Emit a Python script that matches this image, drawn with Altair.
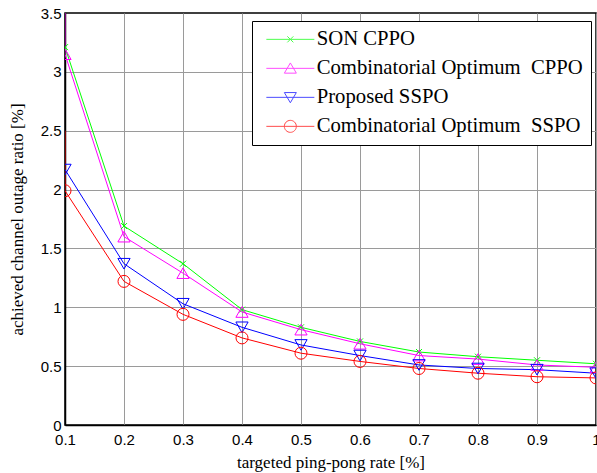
import altair as alt
import pandas as pd

# ---- data ----
x_vals = [0.1, 0.2, 0.3, 0.4, 0.5, 0.6, 0.7, 0.8, 0.9, 1.0]
son_cppo = [3.21, 1.69, 1.37, 0.98, 0.83, 0.71, 0.62, 0.58, 0.55, 0.52]
opt_cppo = [3.15, 1.60, 1.29, 0.96, 0.81, 0.69, 0.59, 0.56, 0.51, 0.49]
prop_sspo = [2.17, 1.37, 1.03, 0.83, 0.68, 0.59, 0.51, 0.48, 0.47, 0.44]
opt_sspo = [1.99, 1.22, 0.94, 0.74, 0.61, 0.54, 0.48, 0.44, 0.41, 0.40]

series_names = ["SON CPPO", "Combinatorial Optimum\u00a0 CPPO",
                "Proposed SSPO", "Combinatorial Optimum\u00a0 SSPO"]
series_values = [son_cppo, opt_cppo, prop_sspo, opt_sspo]
series_colors = ["#00ff00", "#ff00ff", "#0000ff", "#ff0000"]

# clipped lead-in segments visible on the left edge (series, top of visible part)
lead_series = ["Combinatorial Optimum\u00a0 CPPO", "Combinatorial Optimum\u00a0 SSPO"]
lead_top = [3.5, 2.5]

x_ticks = [0.1, 0.2, 0.3, 0.4, 0.5, 0.6, 0.7, 0.8, 0.9, 1.0]
y_ticks = [0, 0.5, 1, 1.5, 2, 2.5, 3, 3.5]

# marker shapes (plot) and line+marker shapes (legend)
plot_shapes = ["M-1,-1L1,1M-1,1L1,-1", "triangle-up", "triangle-down", "circle"]
plot_sizes = [36, 150, 150, 144]
legend_shapes = [
    "M-4,0H4M-0.5,-0.5L0.5,0.5M-0.5,0.5L0.5,-0.5",
    "M-4,0H4M0,-0.9L1,0.8L-1,0.8Z",
    "M-4,0H4M0,0.9L1,-0.8L-1,-0.8Z",
    "M-4,0H4M1,0A1,1,0,1,1,-1,0A1,1,0,1,1,1,0Z",
]

rows = []
for name, vals in zip(series_names, series_values):
    for i, (xv, yv) in enumerate(zip(x_vals, vals)):
        rows.append({"series": name, "x": xv, "y": yv, "order": i})
df = pd.DataFrame(rows)

first_val = {n: v[0] for n, v in zip(series_names, series_values)}
lead_df = pd.DataFrame({
    "series": lead_series,
    "x": [x_vals[0]] * len(lead_series),
    "y": lead_top,
    "y2": [first_val[s] for s in lead_series],
})

xscale = alt.Scale(domain=[0.1, 1.0], nice=False, zero=False)
yscale = alt.Scale(domain=[0, 3.5], nice=False, zero=False)
cscale = alt.Scale(domain=series_names, range=series_colors)
leg = alt.Legend(title=None)

x_axis = alt.Axis(
    values=x_ticks,
    labelExpr="datum.value >= 0.999 ? '1' : format(datum.value, '.1f')",
    title="targeted ping-pong rate [%]",
    grid=True, ticks=False, labelPadding=7, titlePadding=7,
    labelFlush=False, labelOverlap=False,
    gridOpacity={"condition": {"test": "datum.value <= 0.1001", "value": 0}, "value": 1},
)
y_axis = alt.Axis(
    values=y_ticks, format="~g",
    title="achieved channel outage ratio [%]",
    grid=True, ticks=False, labelPadding=4, titlePadding=14,
    labelFlush=False, labelOverlap=False,
    gridOpacity={"condition": {"test": "datum.value >= 3.49 || datum.value <= 0.001", "value": 0}, "value": 1},
)

base = alt.Chart(df)

lines = base.mark_line(strokeWidth=1, clip=True).encode(
    x=alt.X("x:Q", scale=xscale, axis=x_axis),
    y=alt.Y("y:Q", scale=yscale, axis=y_axis),
    color=alt.Color("series:N", scale=cscale, legend=leg),
    order="order:Q",
)

lead = alt.Chart(lead_df).mark_rule(strokeWidth=1, clip=True).encode(
    x=alt.X("x:Q", scale=xscale),
    y=alt.Y("y:Q", scale=yscale),
    y2="y2:Q",
    color=alt.Color("series:N", scale=cscale, legend=leg),
)

point_layers = []
for name, shp, sz, col in zip(series_names, plot_shapes, plot_sizes, series_colors):
    point_layers.append(
        base.transform_filter(alt.datum.series == name).mark_point(
            shape=shp, size=sz, filled=False, stroke=col, strokeWidth=1, opacity=1, clip=True
        ).encode(
            x=alt.X("x:Q", scale=xscale),
            y=alt.Y("y:Q", scale=yscale),
        )
    )

legend_layer = base.transform_filter("datum.x < 0").mark_point(
    filled=False, strokeWidth=1, size=144
).encode(
    x=alt.X("x:Q", scale=xscale),
    y=alt.Y("y:Q", scale=yscale),
    color=alt.Color("series:N", scale=cscale, legend=leg),
    shape=alt.Shape("series:N", scale=alt.Scale(domain=series_names, range=legend_shapes),
                    legend=leg),
)

chart = alt.layer(lead, lines, *point_layers, legend_layer).properties(
    width=531, height=412,
    autosize=alt.AutoSizeParams(type="none"),
    padding={"left": 65, "top": 13, "right": 1, "bottom": 48},
).configure_view(
    stroke="black", strokeWidth=1.5,
).configure_axis(
    labelFont="Liberation Sans", labelFontSize=15, labelColor="black",
    titleFont="Liberation Serif", titleFontSize=17, titleFontWeight="normal", titleColor="black",
    gridColor="#9a9a9a", gridWidth=1,
    domainColor="black", domainWidth=1.5,
).configure_legend(
    orient="none", legendX=187, legendY=8,
    strokeColor="black", strokeWidth=1, fillColor="white",
    padding=8, symbolOffset=20, labelOffset=16, rowPadding=7,
    labelFont="Liberation Serif", labelFontSize=20.7, labelColor="black", labelLimit=400,
    symbolSize=144, symbolStrokeWidth=1, symbolFillColor="transparent",
)

chart.save("out.html", embed_options={"renderer": "svg", "actions": False})
